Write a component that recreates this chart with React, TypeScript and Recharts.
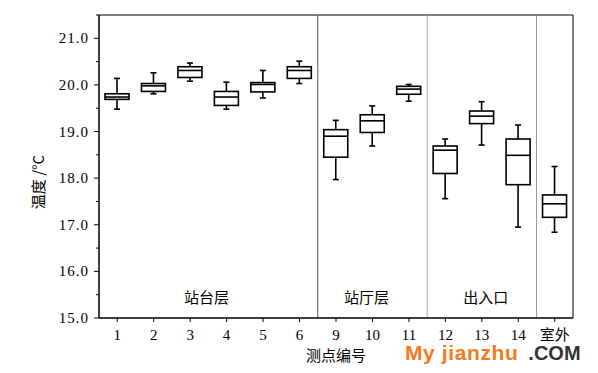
import { ComposedChart, Bar, XAxis, YAxis, ReferenceLine, ReferenceArea, Label } from "recharts";

const points = ["1", "2", "3", "4", "5", "6", "9", "10", "11", "12", "13", "14", "室外"];
const lowWhisker = [19.48, 19.81, 20.08, 19.48, 19.72, 20.03, 17.97, 18.69, 19.65, 17.56, 18.71, 16.95, 16.84];
const lowerQuartile = [19.69, 19.86, 20.16, 19.56, 19.85, 20.14, 18.45, 18.98, 19.8, 18.1, 19.17, 17.86, 17.16];
const medians = [19.74, 19.98, 20.31, 19.74, 20.01, 20.31, 18.9, 19.23, 19.91, 18.6, 19.33, 18.49, 17.45];
const upperQuartile = [19.81, 20.03, 20.39, 19.86, 20.05, 20.39, 19.04, 19.36, 19.97, 18.69, 19.44, 18.84, 17.64];
const highWhisker = [20.14, 20.26, 20.47, 20.06, 20.31, 20.51, 19.24, 19.55, 20.01, 18.84, 19.64, 19.14, 18.25];

const zones = ["站台层", "站厅层", "出入口"];
const zoneEdges = [0, 6, 9, 12];
const yTicks = [15, 15.5, 16, 16.5, 17, 17.5, 18, 18.5, 19, 19.5, 20, 20.5, 21, 21.5];

const rows = points.map((p, i) => ({
  point: p,
  pos: i + 0.5,
  box: [lowerQuartile[i], upperQuartile[i]],
  lo: lowWhisker[i],
  med: medians[i],
  hi: highWhisker[i],
}));

const serif = '"Liberation Serif", "Times New Roman", "Noto Sans CJK SC", serif';
const cjk = '"Noto Sans CJK SC", sans-serif';
// small nudges so the zone titles sit where the reference has them
const zoneShift = [-2, -6, 4];

const BoxShape = (props: any) => {
  const { x, y, width, height, payload } = props;
  const top = Math.min(y, y + height);
  const h = Math.abs(height);
  const [q1, q3] = payload.box;
  const k = h / (q3 - q1);
  const py = (v: number) => top + (q3 - v) * k;
  const cx = x + width / 2;
  return (
    <g stroke="#000" strokeWidth={1.6} fill="none">
      <line x1={cx} x2={cx} y1={py(payload.hi)} y2={top} />
      <line x1={cx} x2={cx} y1={top + h} y2={py(payload.lo)} />
      <line x1={cx - 3} x2={cx + 3} y1={py(payload.hi)} y2={py(payload.hi)} />
      <line x1={cx - 3} x2={cx + 3} y1={py(payload.lo)} y2={py(payload.lo)} />
      <rect x={x} y={top} width={width} height={h} fill="#fff" />
      <line x1={x} x2={x + width} y1={py(payload.med)} y2={py(payload.med)} />
    </g>
  );
};

const YTick = ({ x, y, payload }: any) => {
  const major = Number.isInteger(payload.value);
  return (
    <g>
      <line x1={x - (major ? 5 : 3)} x2={x} y1={y} y2={y} stroke="#000" />
      {major && payload.value < 21.5 && (
        <text
          x={x - 10}
          y={y}
          dy={5}
          textAnchor="end"
          fontSize={15}
          letterSpacing={1}
          fontFamily={serif}
          fill="#000"
        >
          {payload.value.toFixed(1)}
        </text>
      )}
    </g>
  );
};

export default function App() {
  return (
    <div style={{ position: "absolute", left: 0, top: 0, background: "#fff" }}>
      <ComposedChart
        width={598}
        height={373}
        data={rows}
        margin={{ top: 15, right: 25, bottom: 10, left: 0 }}
      >
        <XAxis
          dataKey="point"
          tickSize={4}
          tickMargin={7}
          height={45}
          interval={0}
          axisLine={{ stroke: "#000" }}
          tickLine={{ stroke: "#000" }}
          tick={{ fontSize: 15, fill: "#000", fontFamily: serif }}
        >
          <Label value="测点编号" position="insideBottom" offset={2} fontSize={15} fill="#000" fontFamily={cjk} />
        </XAxis>
        <XAxis xAxisId="sep" type="number" dataKey="pos" domain={[0, 13]} hide allowDataOverflow />
        <YAxis
          type="number"
          domain={[15, 21.5]}
          ticks={yTicks}
          interval={0}
          allowDataOverflow
          width={99}
          tickSize={0}
          tickMargin={0}
          tickLine={false}
          axisLine={{ stroke: "#000" }}
          tick={<YTick />}
        >
          <Label
            content={() => (
              <text
                x={44}
                y={182}
                transform="rotate(-90 44 182)"
                textAnchor="middle"
                fontSize={15}
                fill="#000"
                fontFamily={cjk}
              >
                温度 /°C
              </text>
            )}
          />
        </YAxis>
        <ReferenceArea xAxisId="sep" x1={0} x2={13} y1={15} y2={21.5} fill="none" stroke="#000" strokeOpacity={1} />
        {zones.map((z, i) => (
          <ReferenceArea
            key={z}
            xAxisId="sep"
            x1={zoneEdges[i]}
            x2={zoneEdges[i + 1]}
            y1={15}
            y2={21.5}
            fill="none"
            label={{
              value: z,
              position: "insideBottom",
              offset: 15,
              dx: zoneShift[i],
              fontSize: 15,
              fill: "#000",
              fontFamily: cjk,
            }}
          />
        ))}
        <ReferenceLine xAxisId="sep" x={6} stroke="#555" />
        <ReferenceLine xAxisId="sep" x={9} stroke="#aaa" />
        <ReferenceLine xAxisId="sep" x={12} stroke="#999" />
        <Bar dataKey="box" barSize={24} shape={<BoxShape />} isAnimationActive={false} />
      </ComposedChart>
      <div
        style={{
          position: "absolute",
          left: 405,
          top: 344,
          fontFamily: '"Liberation Sans", Arial, sans-serif',
          fontWeight: "bold",
          whiteSpace: "nowrap",
          lineHeight: "18px",
        }}
      >
        <span style={{ color: "#f47a20", fontSize: 21, letterSpacing: 0.6 }}>My jianzhu</span>
        <span style={{ color: "#333", fontSize: 20, marginLeft: 10 }}>.COM</span>
      </div>
    </div>
  );
}
